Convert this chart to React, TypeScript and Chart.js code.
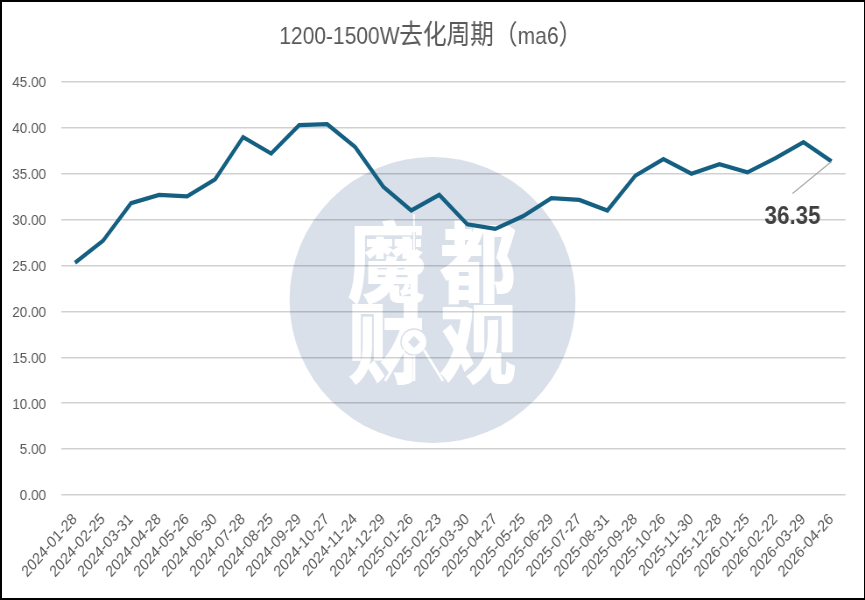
import React, { useEffect, useRef } from "react";
import { Chart, registerables } from "chart.js";

Chart.register(...registerables);

const dates = [
  "2024-01-28", "2024-02-25", "2024-03-31", "2024-04-28", "2024-05-26", "2024-06-30", "2024-07-28",
  "2024-08-25", "2024-09-29", "2024-10-27", "2024-11-24", "2024-12-29", "2025-01-26", "2025-02-23",
  "2025-03-30", "2025-04-27", "2025-05-25", "2025-06-29", "2025-07-27", "2025-08-31", "2025-09-28",
  "2025-10-26", "2025-11-30", "2025-12-28", "2026-01-25", "2026-02-22", "2026-03-29", "2026-04-26",
];
const cycleMa6 = [
  25.3, 27.7, 31.8, 32.7, 32.55, 34.4, 39.0, 37.2, 40.3, 40.4, 37.9, 33.6, 31.0, 32.7,
  29.5, 29.0, 30.4, 32.35, 32.15, 31.0, 34.8, 36.6, 35.0, 36.05, 35.15, 36.7, 38.45, 36.35,
];
const titleText = "1200-1500W去化周期（ma6）";
const watermarkChars = ["魔", "都", "财", "观"];
const FONT = '"Liberation Sans", "Noto Sans CJK SC", sans-serif';
const TITLE_FONT = '"Liberation Sans", "TitleCJK", "Noto Sans CJK SC", sans-serif';

// The reference is a horizontally squeezed picture: the canvas is drawn wider and squeezed by K.
const CANVAS_W = 988;
const K = 865 / CANVAS_W;
const X = (px: number) => px / K;

const titleShift = {
  id: "titleShift",
  afterLayout(chart: any) {
    if (chart.titleBlock) chart.titleBlock.left = X(16);
  },
};

const watermark = {
  id: "watermark",
  beforeDraw(chart: any) {
    const c = chart.ctx;
    c.save();
    c.fillStyle = "#ffffff";
    c.fillRect(0, 0, chart.width, chart.height);
    c.fillStyle = "#d9e0ea";
    c.beginPath();
    c.ellipse(X(432.5), 300, X(143), 143, 0, 0, Math.PI * 2);
    c.fill();
    c.fillStyle = "#ffffff";
    c.font = '900 88px "Noto Sans CJK SC"';
    c.textAlign = "center";
    c.textBaseline = "middle";
    c.fillText(watermarkChars[0], X(386), 262);
    c.fillText(watermarkChars[1], X(478), 262);
    c.fillText(watermarkChars[2], X(386), 343);
    c.fillText(watermarkChars[3], X(478), 343);
    // tower
    c.strokeStyle = "#d9e0ea";
    c.lineWidth = 4;
    c.beginPath();
    c.moveTo(X(414), 232);
    c.lineTo(X(414), 385);
    c.stroke();
    c.strokeStyle = "#ffffff";
    c.lineWidth = 2;
    c.beginPath();
    c.moveTo(X(414), 214);
    c.lineTo(X(414), 250);
    c.stroke();
    c.lineWidth = 8;
    c.beginPath();
    c.moveTo(X(414), 250);
    c.lineTo(X(414), 335);
    c.stroke();
    c.fillStyle = "#ffffff";
    c.beginPath();
    c.ellipse(X(414), 266, X(10), 10, 0, 0, Math.PI * 2);
    c.fill();
    c.beginPath();
    c.ellipse(X(414), 342, X(13), 13, 0, 0, Math.PI * 2);
    c.fill();
    c.strokeStyle = "#d9e0ea";
    c.lineWidth = 1.5;
    c.stroke();
    c.fillStyle = "#d9e0ea";
    c.beginPath();
    c.moveTo(X(414), 336);
    c.lineTo(X(420), 342);
    c.lineTo(X(414), 348);
    c.lineTo(X(408), 342);
    c.closePath();
    c.fill();
    c.strokeStyle = "#ffffff";
    c.lineWidth = 3;
    c.beginPath();
    c.moveTo(X(404), 350);
    c.lineTo(X(385), 381);
    c.moveTo(X(424), 350);
    c.lineTo(X(443), 381);
    c.moveTo(X(414), 355);
    c.lineTo(X(414), 381);
    c.stroke();
    c.restore();
  },
};

const endLabel = {
  id: "endLabel",
  afterDatasetsDraw(chart: any) {
    const pt = chart.getDatasetMeta(0).data[cycleMa6.length - 1];
    const c = chart.ctx;
    c.save();
    c.strokeStyle = "#a6a6a6";
    c.lineWidth = 1.2;
    c.beginPath();
    c.moveTo(pt.x, pt.y);
    c.lineTo(pt.x - X(39), pt.y + 32);
    c.stroke();
    c.fillStyle = "#404040";
    c.font = 'bold 25.5px "Liberation Sans"';
    c.textAlign = "center";
    c.textBaseline = "middle";
    c.fillText(cycleMa6[cycleMa6.length - 1].toFixed(2), pt.x - X(39), pt.y + 56);
    c.restore();
  },
};

export default function App() {
  const ref = useRef<HTMLCanvasElement>(null);
  useEffect(() => {
    const chart = new Chart(ref.current!, {
      type: "line",
      data: {
        labels: dates,
        datasets: [
          {
            data: cycleMa6,
            borderColor: "#156082",
            borderWidth: 4.2,
            pointRadius: 0,
            tension: 0,
            fill: false,
            borderJoinStyle: "miter",
            borderCapStyle: "butt",
          },
        ],
      },
      options: {
        responsive: false,
        animation: false,
        devicePixelRatio: 1,
        layout: { padding: { top: 0, right: X(19.5), bottom: 0, left: 0 } },
        plugins: {
          legend: { display: false },
          tooltip: { enabled: false },
          title: {
            display: true,
            text: titleText,
            color: "#595959",
            font: { family: TITLE_FONT, size: 24, weight: "normal" },
            padding: { top: 23, bottom: 30.2 },
          },
        },
        scales: {
          x: {
            offset: true,
            grid: { display: false },
            border: { display: false },
            afterFit(scale: any) {
              scale.height = 105;
            },
            ticks: {
              autoSkip: false,
              minRotation: 45,
              maxRotation: 45,
              padding: 7,
              color: "#595959",
              font: { family: FONT, size: 16 },
            },
          },
          y: {
            min: 0,
            max: 45,
            grid: { color: "rgba(0,0,0,0.18)", lineWidth: 1.5, drawTicks: false },
            border: { display: false },
            afterFit(scale: any) {
              scale.width = X(61);
            },
            ticks: {
              stepSize: 5,
              padding: 17,
              labelOffset: 1,
              color: "#595959",
              font: { family: FONT, size: 15.5 },
              callback: (v: any) => Number(v).toFixed(2),
            },
          },
        },
      },
      plugins: [titleShift, watermark, endLabel],
    } as any);
    let live = true;
    const style = document.createElement("style");
    style.textContent =
      '@font-face{font-family:"TitleCJK";src:local("Noto Sans CJK SC"),local("Noto Sans CJK SC Regular");size-adjust:113%;}';
    document.head.appendChild(style);
    document.fonts.load('24px "TitleCJK"', "去化周期").then(() => {
      if (live) chart.update();
    });
    return () => {
      live = false;
      style.remove();
      chart.destroy();
    };
  }, []);
  return (
    <div style={{ position: "fixed", left: 0, top: 0, width: 865, height: 600, background: "#fff", overflow: "hidden" }}>
      <canvas
        ref={ref}
        width={CANVAS_W}
        height={600}
        style={{ display: "block", transformOrigin: "0 0", transform: `scaleX(${K})` }}
      />
      <div
        style={{
          position: "absolute",
          inset: 0,
          boxSizing: "border-box",
          borderStyle: "solid",
          borderColor: "#000",
          borderWidth: "2px 1px 2px 2px",
          pointerEvents: "none",
        }}
      />
    </div>
  );
}
